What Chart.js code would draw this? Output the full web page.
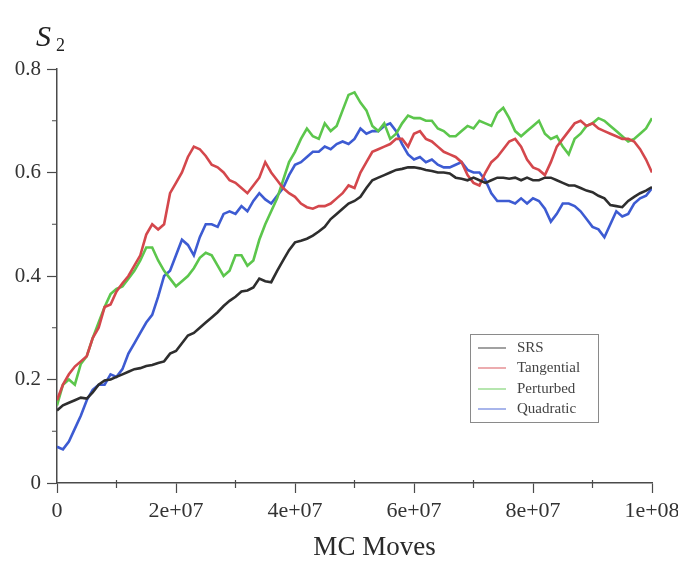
<!DOCTYPE html>
<html>
<head>
<meta charset="utf-8">
<script src="https://cdn.jsdelivr.net/npm/chart.js@4/dist/chart.umd.min.js"></script>
<style>
  html, body { margin: 0; padding: 0; background: #ffffff; }
  #wrap { width: 678px; height: 561px; position: relative; }
</style>
</head>
<body>
<div id="wrap"><canvas id="c" width="678" height="561"></canvas></div>
<script>
// Order parameter S2 versus Monte Carlo moves, sampled every 1e6 moves (0 .. 1e8)
const moveStep = 1e6;

const seriesNames = ['SRS', 'Tangential', 'Perturbed', 'Quadratic'];

const srs = [
  0.14, 0.15, 0.155, 0.16, 0.165, 0.163, 0.175, 0.19, 0.198, 0.20,
  0.205, 0.21, 0.215, 0.22, 0.222, 0.226, 0.228, 0.232, 0.235, 0.25,
  0.255, 0.27, 0.285, 0.29, 0.30, 0.31, 0.32, 0.33, 0.342, 0.352,
  0.36, 0.37, 0.372, 0.378, 0.395, 0.39, 0.388, 0.41, 0.43, 0.45,
  0.465, 0.468, 0.472, 0.478, 0.486, 0.495, 0.51, 0.52, 0.53, 0.54,
  0.545, 0.553, 0.57, 0.585, 0.59, 0.595, 0.60, 0.605, 0.607, 0.61,
  0.61, 0.608, 0.605, 0.603, 0.60, 0.60, 0.598, 0.59, 0.588, 0.585,
  0.59, 0.585, 0.58, 0.585, 0.59, 0.59, 0.588, 0.59, 0.585, 0.59,
  0.585, 0.585, 0.59, 0.59, 0.585, 0.58, 0.575, 0.575, 0.57, 0.565,
  0.562, 0.555, 0.55, 0.537, 0.535, 0.533, 0.545, 0.553, 0.56, 0.565,
  0.572
];

const tangential = [
  0.16, 0.19, 0.21, 0.225, 0.235, 0.245, 0.28, 0.30, 0.34, 0.345,
  0.37, 0.386, 0.40, 0.42, 0.44, 0.48, 0.50, 0.49, 0.50, 0.56,
  0.58, 0.60, 0.63, 0.65, 0.645, 0.632, 0.615, 0.61, 0.60, 0.585,
  0.58, 0.57, 0.56, 0.575, 0.59, 0.62, 0.60, 0.585, 0.57, 0.56,
  0.553, 0.54, 0.533, 0.53, 0.535, 0.535, 0.54, 0.55, 0.56, 0.575,
  0.57, 0.60, 0.62, 0.64, 0.645, 0.65, 0.655, 0.665, 0.665, 0.65,
  0.675, 0.68, 0.665, 0.66, 0.65, 0.64, 0.635, 0.63, 0.62, 0.595,
  0.58, 0.575, 0.60, 0.62, 0.63, 0.645, 0.66, 0.665, 0.65, 0.625,
  0.61, 0.605, 0.595, 0.62, 0.65, 0.665, 0.68, 0.695, 0.70, 0.69,
  0.695, 0.685, 0.68, 0.675, 0.67, 0.665, 0.665, 0.66, 0.645, 0.625,
  0.60
];

const perturbed = [
  0.15, 0.19, 0.20, 0.19, 0.23, 0.245, 0.28, 0.31, 0.34, 0.365,
  0.375, 0.38, 0.395, 0.41, 0.43, 0.455, 0.455, 0.43, 0.41, 0.395,
  0.38, 0.39, 0.40, 0.415, 0.435, 0.445, 0.44, 0.42, 0.40, 0.41,
  0.44, 0.44, 0.42, 0.43, 0.47, 0.50, 0.525, 0.55, 0.585, 0.62,
  0.64, 0.665, 0.685, 0.67, 0.665, 0.695, 0.68, 0.69, 0.72, 0.75,
  0.755, 0.735, 0.72, 0.69, 0.68, 0.695, 0.665, 0.675, 0.695, 0.71,
  0.705, 0.705, 0.70, 0.70, 0.685, 0.68, 0.67, 0.67, 0.68, 0.69,
  0.685, 0.70, 0.695, 0.69, 0.715, 0.725, 0.705, 0.68, 0.67, 0.68,
  0.69, 0.70, 0.675, 0.665, 0.67, 0.65, 0.635, 0.665, 0.675, 0.69,
  0.695, 0.705, 0.70, 0.69, 0.68, 0.67, 0.66, 0.665, 0.675, 0.685,
  0.705
];

const quadratic = [
  0.07, 0.065, 0.08, 0.105, 0.13, 0.16, 0.18, 0.19, 0.19, 0.21,
  0.205, 0.22, 0.25, 0.27, 0.29, 0.31, 0.325, 0.36, 0.40, 0.41,
  0.44, 0.47, 0.46, 0.44, 0.475, 0.50, 0.50, 0.495, 0.52, 0.525,
  0.52, 0.535, 0.525, 0.545, 0.56, 0.548, 0.54, 0.555, 0.57, 0.595,
  0.615, 0.62, 0.63, 0.64, 0.64, 0.65, 0.645, 0.655, 0.66, 0.655,
  0.665, 0.685, 0.675, 0.68, 0.68, 0.69, 0.695, 0.68, 0.655, 0.635,
  0.625, 0.63, 0.62, 0.625, 0.615, 0.61, 0.61, 0.615, 0.62, 0.605,
  0.60, 0.60, 0.585, 0.56, 0.545, 0.545, 0.545, 0.54, 0.55, 0.54,
  0.55, 0.545, 0.53, 0.505, 0.52, 0.54, 0.54, 0.535, 0.525, 0.51,
  0.495, 0.49, 0.475, 0.50, 0.525, 0.515, 0.52, 0.54, 0.55, 0.555,
  0.57
];

const seriesColors = ['#2e2e2e', '#d4474c', '#5cc64c', '#3d5bd2'];

const xTickLabels = ['0', '2e+07', '4e+07', '6e+07', '8e+07', '1e+08'];
const yTickLabels = ['0', '0.2', '0.4', '0.6', '0.8'];
const xMinorTicks = [1e7, 3e7, 5e7, 7e7, 9e7];
const yMinorTicks = [0.1, 0.3, 0.5, 0.7];
const xAxisTitle = 'MC Moves';

const serif = '"Liberation Serif", "DejaVu Serif", serif';
const axisColor = '#4a4a4a';
const textColor = '#333333';

function toPoints(values) {
  return values.map((v, i) => ({ x: i * moveStep, y: v }));
}

const allSeries = [srs, tangential, perturbed, quadratic];
const datasets = allSeries.map((vals, k) => ({
  label: seriesNames[k],
  data: toPoints(vals),
  borderColor: seriesColors[k],
  backgroundColor: seriesColors[k],
  borderWidth: 2.6,
  pointRadius: 0,
  tension: 0,
  fill: false
}));

// short minor tick marks between the labelled ones
const minorTicks = {
  id: 'minorTicks',
  afterDraw(chart) {
    const ctx = chart.ctx;
    const xs = chart.scales.x, ys = chart.scales.y;
    ctx.save();
    ctx.strokeStyle = axisColor;
    ctx.lineWidth = 1.2;
    ctx.beginPath();
    xMinorTicks.forEach(v => {
      const px = xs.getPixelForValue(v);
      ctx.moveTo(px, xs.top - 3);
      ctx.lineTo(px, xs.top + 5);
    });
    yMinorTicks.forEach(v => {
      const py = ys.getPixelForValue(v);
      ctx.moveTo(ys.right - 5, py);
      ctx.lineTo(ys.right, py);
    });
    ctx.stroke();
    ctx.restore();
  }
};

// boxed key inside the plot, lower right
const boxedKey = {
  id: 'boxedKey',
  afterDraw(chart) {
    const ctx = chart.ctx;
    const ca = chart.chartArea;
    const left = ca.right - 182, top = ca.bottom - 149;
    const w = 128, h = 88;
    ctx.save();
    ctx.fillStyle = '#ffffff';
    ctx.fillRect(left, top, w, h);
    ctx.strokeStyle = '#8a8a8a';
    ctx.lineWidth = 1;
    ctx.strokeRect(left + 0.5, top + 0.5, w, h);
    ctx.font = '15px ' + serif;
    ctx.textBaseline = 'middle';
    ctx.textAlign = 'left';
    const rows = [14, 34, 55, 75];
    chart.data.datasets.forEach((ds, i) => {
      const y = top + rows[i];
      ctx.strokeStyle = ds.borderColor;
      ctx.globalAlpha = 0.75;
      ctx.lineWidth = 1.2;
      ctx.beginPath();
      ctx.moveTo(left + 8, y);
      ctx.lineTo(left + 36, y);
      ctx.stroke();
      ctx.globalAlpha = 1;
      ctx.fillStyle = '#444444';
      ctx.fillText(ds.label, left + 47, y);
    });
    ctx.restore();
  }
};

// axis titles: S2 above the y axis, MC Moves under the x tick labels
const axisTitles = {
  id: 'axisTitles',
  afterDraw(chart) {
    const ctx = chart.ctx;
    const ca = chart.chartArea;
    ctx.save();
    ctx.fillStyle = '#222222';
    ctx.textBaseline = 'alphabetic';
    ctx.textAlign = 'left';
    ctx.font = 'italic 30px ' + serif;
    ctx.fillText('S', 36, 46);
    ctx.font = '18px ' + serif;
    ctx.fillText('2', 56, 51);
    ctx.textAlign = 'center';
    ctx.font = '27px ' + serif;
    ctx.fillStyle = '#2a2a2a';
    ctx.fillText(xAxisTitle, (ca.left + ca.right) / 2 + 20, ca.bottom + 72);
    ctx.restore();
  }
};

new Chart(document.getElementById('c'), {
  type: 'line',
  data: { datasets },
  options: {
    responsive: false,
    animation: false,
    events: [],
    layout: { padding: { left: 0, top: 69, right: 26, bottom: 0 } },
    plugins: {
      legend: { display: false },
      tooltip: { enabled: false },
      title: { display: false }
    },
    scales: {
      x: {
        type: 'linear',
        min: 0,
        max: 1e8,
        afterFit(scale) {
          scale.height = 78;
          scale.paddingLeft = 0;
          scale.paddingRight = 0;
        },
        afterBuildTicks(scale) {
          scale.ticks = xTickLabels.map((_, i) => ({ value: i * 2e7 }));
        },
        ticks: {
          callback: (v, i) => xTickLabels[i],
          font: { family: serif, size: 22 },
          color: textColor,
          padding: 5,
          maxRotation: 0,
          autoSkip: false
        },
        grid: {
          drawOnChartArea: false,
          drawTicks: true,
          tickLength: 10,
          tickWidth: 1.2,
          tickColor: axisColor
        },
        border: { display: true, color: axisColor, width: 1.5 },
        title: { display: false }
      },
      y: {
        type: 'linear',
        min: 0,
        max: 0.8,
        afterFit(scale) {
          scale.width = 57;
          scale.paddingTop = 0;
          scale.paddingBottom = 0;
        },
        afterBuildTicks(scale) {
          scale.ticks = yTickLabels.map((_, i) => ({ value: i * 0.2 }));
        },
        ticks: {
          callback: (v, i) => yTickLabels[i],
          font: { family: serif, size: 21 },
          color: textColor,
          padding: 6
        },
        grid: {
          drawOnChartArea: false,
          drawTicks: true,
          tickLength: 10,
          tickWidth: 1.2,
          tickColor: axisColor
        },
        border: { display: true, color: axisColor, width: 1.5 }
      }
    }
  },
  plugins: [minorTicks, boxedKey, axisTitles]
});
</script>
</body>
</html>
